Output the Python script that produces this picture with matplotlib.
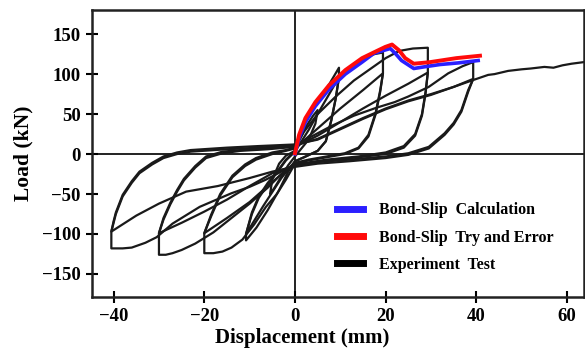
import matplotlib
matplotlib.use("Agg")
import matplotlib.pyplot as plt

plt.rcParams["font.family"] = ["Liberation Serif", "DejaVu Serif"]
plt.rcParams["font.weight"] = "bold"

# --- experiment test: hysteresis cycles (displacement mm, load kN) ---
c5_x = [0, 1, 2.5, 4, 5, 4.5, 3, 1, 0, -1.5, -3, -4.5, -5.5, -5, -3.5, -2, 0]
c5_y = [2, 18, 35, 48, 55, 38, 18, 4, -3, -14, -28, -42, -50, -32, -12, -2, 4]

c10a_x = [0, 1, 2.5, 4.5, 7, 9.7, 9.7, 9, 8, 6.8, 5, 2, 0, -1.5, -3.5, -6, -8.5, -10.8,
          -10.8, -9.5, -8, -6, -4.2, -2, 0]
c10a_y = [4, 22, 42, 62, 82, 108, 96, 70, 42, 16, 4, -4, -9, -22, -45, -70, -92, -108,
          -100, -75, -55, -38, -25, -8, 3]

c10b_x = [0, 3, 6, 9.7, 9, 8, 6.8, 5, 2, 0, -3, -7, -10.8, -9.5, -8, -6, -4.2, -2, 0]
c10b_y = [3, 30, 60, 96, 70, 42, 16, 4, -4, -9, -30, -65, -100, -73, -53, -36, -24, -7, 4]

c20a_x = [0, 1, 3, 6, 9, 12, 15, 17.5, 19.4, 19.4, 18.8, 17.8, 16.2, 14, 11, 7, 3, 0,
          -2, -4, -6.4, -9, -11.6, -14, -16, -18, -20, -20, -18.5, -16.5, -13.8, -11,
          -8.6, -5, -2, 0]
c20a_y = [5, 25, 48, 72, 92, 108, 119, 125, 127, 101, 78, 50, 22, 7, 0, -4, -8, -12,
          -32, -50, -66, -88, -107, -117, -122, -124, -124, -99, -78, -52, -29, -15,
          -7, 0, 4, 7]

c20b_x = [0, 5, 10, 15, 19.4, 18.8, 17.8, 16.2, 14, 11, 7, 3, 0, -5, -10, -15, -20,
          -18.5, -16.5, -13.8, -11, -8.6, -5, -2, 0]
c20b_y = [7, 32, 57, 80, 101, 80, 52, 24, 8, 1, -3, -7, -11, -35, -60, -80, -99,
          -76, -50, -27, -13, -5, 2, 5, 8]

c30a_x = [0, 2, 5, 9, 13, 17, 20, 23, 26, 29.3, 29.3, 28.8, 28, 26.5, 24, 20, 14, 7, 0,
          -3, -6, -10, -14, -18, -22, -25, -27, -28.5, -30, -30, -29, -27.5, -26,
          -24.5, -22, -19.6, -16, -12, -6, 0]
c30a_y = [8, 28, 50, 72, 92, 108, 120, 129, 132, 133, 102, 78, 50, 25, 10, 2, -3, -7,
          -13, -25, -42, -62, -80, -98, -112, -120, -124, -126, -126, -99, -82, -63,
          -47, -33, -17, -5, 1, 4, 6, 9]

c30b_x = [0, 5, 10, 15, 20, 25, 29.3, 28.8, 28, 26.5, 24, 20, 14, 7, 0, -5, -10, -15,
          -20, -25, -30, -29, -27.5, -26, -24.5, -22, -19.6, -16, -12, -6, 0]
c30b_y = [9, 23, 40, 57, 73, 88, 102, 76, 48, 23, 8, 0, -4, -8, -14, -24, -40, -57,
          -72, -86, -99, -80, -61, -45, -31, -15, -3, 3, 5, 7, 10]

c40a_x = [0, 3, 8, 13, 18, 22, 25, 29.5, 33.8, 37, 39.3, 39.3, 38.2, 36.7, 35, 33,
          29.5, 25, 20, 12, 5, 0, -3, -6.4, -10, -14, -21, -27, -30.5, -33, -36, -38,
          -40.5, -40.5, -40, -39.5, -38, -36, -34.3, -31.5, -29, -26, -23, -15, -8, 0]
c40a_y = [10, 20, 35, 48, 58, 65, 72, 84, 101, 110, 115, 94, 80, 55, 39, 26, 9, 1,
          -3, -7, -10, -14, -22, -32, -41, -49, -66, -87, -104, -111, -117, -118,
          -118, -97, -86, -75, -53, -36, -24, -13, -5, 0, 3, 6, 8, 11]

c40b_x = [0, 5, 10, 15, 20, 25, 30, 35, 39.3, 38.2, 36.7, 35, 33, 29.5, 25, 20, 12, 5,
          0, -5, -10, -17, -24, -30, -35, -40.5, -40, -39.5, -38, -36, -34.3, -31.5,
          -29, -26, -23, -15, -8, 0]
c40b_y = [11, 19, 32, 45, 57, 67, 75, 84, 94, 78, 53, 37, 24, 7, -1, -5, -9, -12,
          -16, -22, -30, -40, -47, -62, -77, -97, -84, -73, -51, -34, -22, -11, -3,
          2, 5, 8, 10, 12]

# final monotonic push
mono_x = [0, 5, 10, 15, 20, 25, 30, 35, 39, 42.6, 44, 47, 50, 52, 55, 57, 59, 61, 63.7]
mono_y = [12, 18, 31, 44, 56, 66, 74, 84, 92, 99, 100, 104, 106, 107, 109, 108, 111,
          113, 115]

# --- bond-slip envelopes ---
calc_x = [0, 0.9, 2.3, 4.5, 7.5, 11.1, 14.8, 17.4, 21, 22.1, 23.5, 26.2, 28.4, 32,
          36, 40.4]
calc_y = [0, 20, 40, 60, 81, 100, 115, 126, 132, 126, 117, 107, 109, 112, 114, 117]

trial_x = [0, 0.9, 2.3, 4.5, 7.5, 11.1, 14.8, 17.7, 19.9, 21.4, 22.9, 24.3, 26.2,
           29.8, 35.6, 40.8]
trial_y = [1, 24, 45, 65, 86, 105, 120, 128, 134, 137, 130, 120, 113, 115, 120, 123]

cycles = [(c5_x, c5_y), (c10a_x, c10a_y), (c10b_x, c10b_y), (c20a_x, c20a_y),
          (c20b_x, c20b_y), (c30a_x, c30a_y), (c30b_x, c30b_y), (c40a_x, c40a_y),
          (c40b_x, c40b_y), (mono_x, mono_y)]

fig = plt.figure(figsize=(5.85, 3.5), dpi=100)
ax = fig.add_axes([0.157, 0.151, 0.841, 0.82])

for cx, cy in cycles:
    ax.plot(cx, cy, color="#1a1a1a", lw=1.6, solid_joinstyle="round")

ax.plot(calc_x, calc_y, color="#2b1fff", lw=2.6)
ax.plot(trial_x, trial_y, color="#ff0a0a", lw=2.8)

ax.axhline(0, color="#111111", lw=1.3, zorder=0)
ax.axvline(0, color="#111111", lw=1.3, zorder=0)

ax.set_xlim(-44.8, 63.7)
ax.set_ylim(-179, 180)
ax.set_xticks([-40, -20, 0, 20, 40, 60])
ax.set_yticks([-150, -100, -50, 0, 50, 100, 150])
ax.tick_params(direction="inout", length=8, width=1.5, labelsize=13.5, pad=4,
               top=False, right=False)
for s in ax.spines.values():
    s.set_linewidth(1.8)
    s.set_color("#222222")

ax.set_xlabel("Displacement (mm)", fontsize=15, fontweight="bold")
ax.xaxis.set_label_coords(0.428, -0.108)
ax.set_ylabel("Load (kN)", fontsize=15.5, fontweight="bold", labelpad=6)

handles = [plt.Line2D([], [], color="#2b1fff", lw=5),
           plt.Line2D([], [], color="#ff0a0a", lw=5),
           plt.Line2D([], [], color="black", lw=5)]
ax.legend(handles, ["Bond-Slip  Calculation", "Bond-Slip  Try and Error",
                    "Experiment  Test"],
          loc="upper left", bbox_to_anchor=(0.47, 0.38), frameon=False,
          fontsize=11.5, handlelength=1.6, handletextpad=1.0, labelspacing=0.7)

fig.savefig("out.png", dpi=100)
